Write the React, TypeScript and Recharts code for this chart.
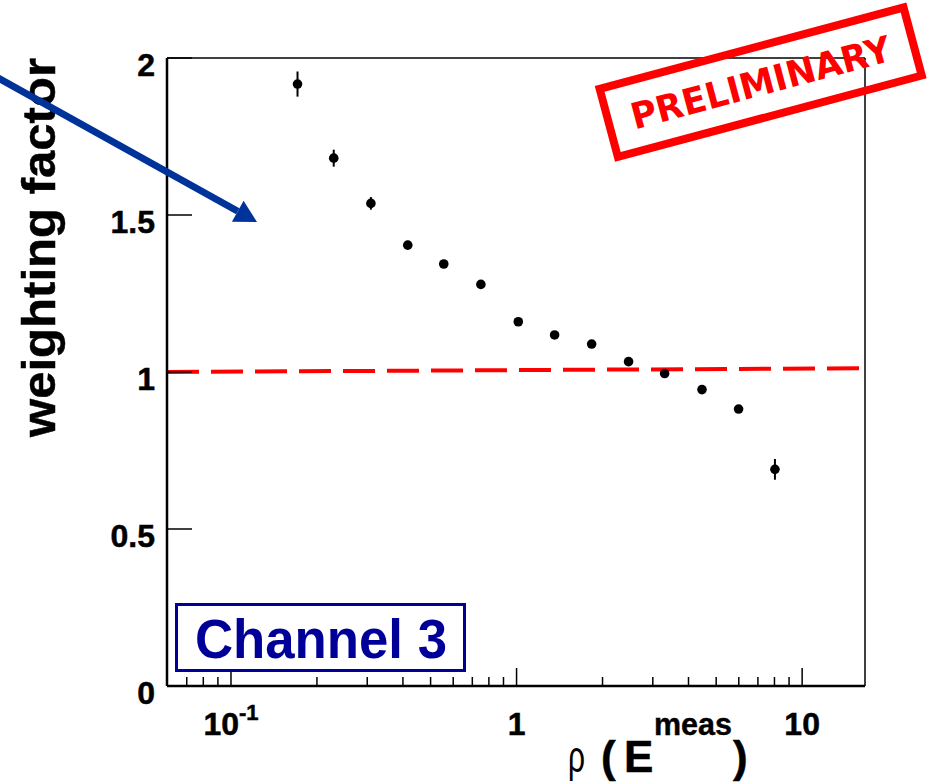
import React from 'react';
import { ScatterChart, Scatter, XAxis, YAxis, ErrorBar, ReferenceLine } from 'recharts';

// ---- data ----
const rho = [0.171, 0.229, 0.309, 0.416, 0.556, 0.75, 1.014, 1.359, 1.832, 2.467, 3.3, 4.46, 5.99, 8.03];
const weight = [1.917, 1.681, 1.537, 1.404, 1.344, 1.279, 1.16, 1.118, 1.089, 1.033, 0.995, 0.944, 0.882, 0.69];
const weightErr = [0.04, 0.027, 0.02, 0.008, 0.007, 0.007, 0.007, 0.007, 0.007, 0.008, 0.009, 0.01, 0.012, 0.033];

const xDomain = [0.0597, 16.6];
const yDomain = [0, 2];
const xMajorTicks = [0.1, 1, 10];
const xMajorBase = ['10', '1', '10'];
const xMajorExp = ['-1', '', ''];
const xMinorTicks = [0.07, 0.08, 0.09, 0.2, 0.3, 0.4, 0.5, 0.6, 0.7, 0.8, 0.9, 2, 3, 4, 5, 6, 7, 8, 9];
const yTicks = [0, 0.5, 1, 1.5, 2];
const yTickLabels = ['0', '0.5', '1', '1.5', '2'];
const unityX = [0.0597, 16.6];
const unityY = [1.0, 1.012];

const data = rho.map((x, i) => ({ x, y: weight[i], err: weightErr[i] }));
const allXTicks = [...xMajorTicks, ...xMinorTicks].sort((a, b) => a - b);

const FONT = '"Liberation Sans", Arial, Helvetica, sans-serif';

const XTick = (props: any) => {
  const { x, y, payload } = props;
  const idx = xMajorTicks.indexOf(payload.value);
  const major = idx >= 0;
  return (
    <g>
      <line x1={x} x2={x} y1={y} y2={y - (major ? 18 : 9)} stroke="#000" strokeWidth={1.5} />
      {major && (
        <text
          x={x}
          y={y + 49}
          textAnchor="middle"
          fontFamily={FONT}
          fontWeight="bold"
          fontSize={32}
          fill="#000"
          stroke="#000"
          strokeWidth={0.5}
        >
          <tspan>{xMajorBase[idx]}</tspan>
          {xMajorExp[idx] && (
            <tspan dy={-15} fontSize={22}>
              {xMajorExp[idx]}
            </tspan>
          )}
        </text>
      )}
    </g>
  );
};

const YTick = (props: any) => {
  const { x, y, payload } = props;
  const idx = yTicks.indexOf(payload.value);
  return (
    <g>
      <line x1={x} x2={x + 25} y1={y} y2={y} stroke="#000" strokeWidth={1.5} />
      <text
        x={x - 12}
        y={y + 18}
        textAnchor="end"
        fontFamily={FONT}
        fontWeight="bold"
        fontSize={32}
        fill="#000"
        stroke="#000"
        strokeWidth={0.5}
      >
        {yTickLabels[idx]}
      </text>
    </g>
  );
};

const Dot = (props: any) => <circle cx={props.cx} cy={props.cy} r={4.8} fill="#000" />;

// arrow geometry (decoration)
const arrowStart = [-20, 68];
const arrowTip = [257, 222];
const arrowHead = () => {
  const dx = arrowTip[0] - arrowStart[0];
  const dy = arrowTip[1] - arrowStart[1];
  const L = Math.sqrt(dx * dx + dy * dy);
  const ux = dx / L, uy = dy / L;
  const hl = 22, hw = 12;
  const bx = arrowTip[0] - ux * hl, by = arrowTip[1] - uy * hl;
  return {
    base: [bx, by],
    pts: `${arrowTip[0]},${arrowTip[1]} ${bx - uy * hw},${by + ux * hw} ${bx + uy * hw},${by - ux * hw}`,
  };
};

export default function App() {
  const head = arrowHead();
  return (
    <div style={{ position: 'absolute', left: 0, top: 0, width: 928, height: 783, background: '#fff' }}>
      <ScatterChart width={928} height={783} margin={{ top: 58, right: 63, bottom: 0, left: 0 }}>
        <XAxis
          dataKey="x"
          type="number"
          scale="log"
          domain={xDomain}
          allowDataOverflow
          ticks={allXTicks}
          interval={0}
          tickSize={0}
          tickMargin={0}
          tickLine={false}
          tick={<XTick />}
          height={97}
          axisLine={{ stroke: '#000', strokeWidth: 2.5 }}
        />
        <YAxis
          dataKey="y"
          type="number"
          domain={yDomain}
          allowDataOverflow
          ticks={yTicks}
          interval={0}
          tickSize={0}
          tickMargin={0}
          tickLine={false}
          tick={<YTick />}
          width={167}
          axisLine={{ stroke: '#000', strokeWidth: 2.5 }}
        />
        <ReferenceLine y={yDomain[1]} stroke="#000" strokeWidth={1.5} ifOverflow="visible" />
        <ReferenceLine x={xDomain[1]} stroke="#000" strokeWidth={1.5} ifOverflow="visible" />
        <ReferenceLine
          segment={[
            { x: unityX[0], y: unityY[0] },
            { x: unityX[1], y: unityY[1] },
          ]}
          stroke="#ff0000"
          strokeWidth={4}
          strokeDasharray="32 12"
          ifOverflow="visible"
        />
        <Scatter data={data} shape={<Dot />} isAnimationActive={false}>
          <ErrorBar dataKey="err" direction="y" width={0} stroke="#000" strokeWidth={2} />
        </Scatter>
      </ScatterChart>
      <svg
        width={928}
        height={783}
        style={{ position: 'absolute', left: 0, top: 0, pointerEvents: 'none' }}
      >
        <text
          transform="translate(55,247.5) rotate(-90)"
          textAnchor="middle"
          fontFamily={FONT}
          fontWeight="bold"
          fontSize={47}
          textLength={379}
          lengthAdjust="spacingAndGlyphs"
          fill="#000"
          stroke="#000"
          strokeWidth={0.5}
        >
          weighting factor
        </text>
        <g fontFamily={FONT} fill="#000">
          <text x={568} y={772} fontSize={44} textLength={17} lengthAdjust="spacingAndGlyphs">ρ</text>
          <text x={601} y={772} fontSize={44} fontWeight="bold" stroke="#000" strokeWidth={0.5}>(</text>
          <text x={624} y={772} fontSize={44} fontWeight="bold" stroke="#000" strokeWidth={0.5}>E</text>
          <text x={654} y={735} fontSize={31} fontWeight="bold" stroke="#000" strokeWidth={0.4} textLength={78} lengthAdjust="spacingAndGlyphs">meas</text>
          <text x={733} y={772} fontSize={44} fontWeight="bold" stroke="#000" strokeWidth={0.5}>)</text>
        </g>
        <rect x={176.5} y={604.5} width={288} height={66} fill="#fff" stroke="#000099" strokeWidth={3} />
        <text
          x={321}
          y={658}
          textAnchor="middle"
          fontFamily={FONT}
          fontWeight="bold"
          fontSize={55}
          textLength={252}
          lengthAdjust="spacingAndGlyphs"
          fill="#000099"
        >
          Channel 3
        </text>
        <g transform="translate(760.7,82.2) rotate(-15)">
          <rect x={-157.3} y={-35.2} width={314.6} height={70.4} fill="none" stroke="#ff0000" strokeWidth={8} />
          <text
            x={0}
            y={13}
            textAnchor="middle"
            fontFamily='"DejaVu Sans", Verdana, sans-serif'
            fontWeight="bold"
            fontSize={36}
            textLength={268}
            lengthAdjust="spacingAndGlyphs"
            fill="#ff0000"
          >
            PRELIMINARY
          </text>
        </g>
        <line
          x1={arrowStart[0]}
          y1={arrowStart[1]}
          x2={head.base[0]}
          y2={head.base[1]}
          stroke="#003399"
          strokeWidth={7}
        />
        <polygon points={head.pts} fill="#003399" />
      </svg>
    </div>
  );
}
